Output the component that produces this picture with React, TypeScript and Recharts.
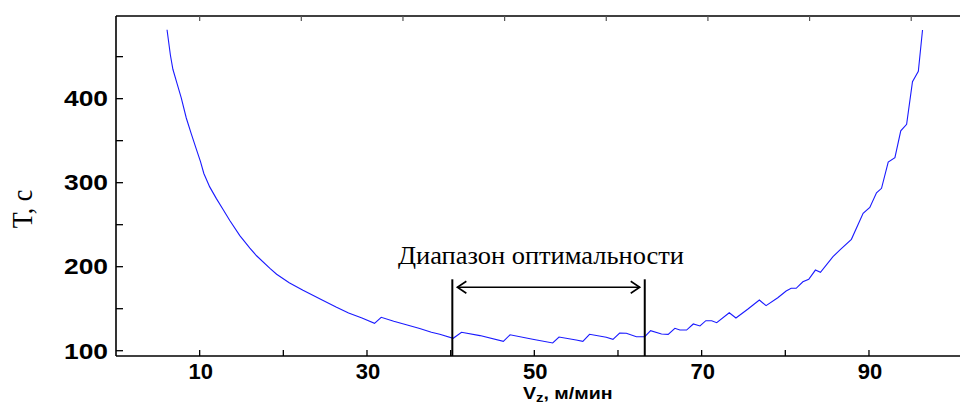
import React from 'react';
import { LineChart, Line, XAxis, YAxis, ReferenceLine, ReferenceDot } from 'recharts';

// Speed V_z (m/min)
const speeds: number[] = [
  6.1, 6.5, 6.8, 7.3, 7.8, 8.4, 9.0, 9.6, 10.1, 10.5, 11.2, 12.0, 12.8, 13.6, 14.8, 16.0, 16.8, 18.4, 19.2,
  20.7, 22.35, 24.7, 26.3, 27.8, 29.4, 30.9, 31.7, 33.2, 34.7, 36.3, 37.7, 38.7, 40.3, 41.3, 43.5, 46.3, 47.1,
  49.8, 52.2, 52.95, 55.0, 55.8, 56.6, 58.6, 59.4, 60.2, 61.0, 62.2, 63.2, 63.9, 65.2, 66.0, 66.8, 67.4, 68.2,
  69.0, 69.8, 70.5, 71.2, 71.8, 73.3, 74.1, 75.5, 76.9, 77.7, 79.1, 80.1, 80.7, 81.3, 82.1, 82.8, 83.6, 84.2,
  85.7, 86.6, 87.9, 89.3, 90.1, 90.9, 91.5, 92.3, 93.1, 93.8, 94.5, 95.2, 95.9, 96.4,
];
// Time T (s)
const times: number[] = [
  482, 452, 435, 418, 401, 377, 358, 340, 325, 311, 295, 281, 268, 255, 237, 222, 213, 198, 191,
  181, 172, 160, 152, 145, 139, 132.6, 139.8, 135, 130.8, 126.5, 122, 119.5, 114.8, 122, 118, 111.2, 119,
  113.6, 109.2, 116.3, 112.7, 111.2, 119.5, 116, 113.6, 121, 120.7, 116.7, 116.7, 123.8, 119.9, 119.5, 126.7, 124.6, 124.6,
  131.8, 129.4, 135.7, 135.7, 133.3, 145.2, 138.9, 149.3, 160.4, 153.6, 163.1, 171.1, 174.3, 174.3, 182.1, 185, 196, 193.3,
  212, 220.5, 232.6, 263.6, 270.5, 288, 293.3, 324.5, 329.8, 361.8, 369.5, 420.2, 432.5, 481.8,
];

const xTicks: number[] = [10, 20, 30, 40, 50, 60, 70, 80, 90];
const xTickLabels: number[] = [10, 30, 50, 70, 90];
const topTicks: number[] = [10, 22.15, 34.3, 46.45, 58.6, 70.75, 82.9, 95.05];
const yTicks: number[] = [100, 150, 200, 250, 300, 350, 400, 450];
const yTickLabels: number[] = [100, 200, 300, 400];

const xDomain: [number, number] = [0, 100.88];
const yDomain: [number, number] = [93.7, 498.4];

// Optimality range annotation
const rangeBounds: number[] = [40.2, 63.2];
const rangeTopT = 185;
const arrowEnds: number[] = [40.8, 62.6];
const arrowT = 175.5;
const rangeLabel = 'Диапазон оптимальности';
const rangeLabelAt = { v: 50.8, t: 202.9 };

const yTitle = 'T, c';
const xTitleMain = 'V';
const xTitleSub = 'z';
const xTitleRest = ', м/мин';

const data = speeds.map((v, i) => ({ v, t: times[i] }));

const SANS = '"Liberation Sans", Arial, sans-serif';
const SERIF = '"Liberation Serif", "Times New Roman", serif';

const YTick = (props: any) => {
  const { x, y, payload } = props;
  const labeled = yTickLabels.includes(payload.value);
  return (
    <g>
      <line x1={x} x2={x + 7} y1={y} y2={y} stroke="#000" strokeWidth={1.3} />
      {labeled && (
        <text
          x={0}
          y={0}
          transform={`translate(${x - 8},${y + 7.8}) scale(1.2,1)`}
          textAnchor="end"
          fontFamily={SANS}
          fontWeight="bold"
          fontSize={22}
          fill="#000"
        >
          {payload.value}
        </text>
      )}
    </g>
  );
};

const XTick = (props: any) => {
  const { x, y, payload } = props;
  const labeled = xTickLabels.includes(payload.value);
  return (
    <g>
      <line x1={x} x2={x} y1={y} y2={y - 6} stroke="#000" strokeWidth={1.3} />
      {labeled && (
        <text x={x + 1} y={y + 22.5} textAnchor="middle" fontFamily={SANS} fontWeight="bold" fontSize={22} fill="#000">
          {payload.value}
        </text>
      )}
    </g>
  );
};

const TopTick = (props: any) => {
  const { x, y } = props;
  return <line x1={x} x2={x} y1={y} y2={y + 5} stroke="#555" strokeWidth={1.2} />;
};

const YTitle = () => (
  <text
    x={0}
    y={0}
    transform="translate(31.7,209) rotate(-90) scale(1,1.15)"
    textAnchor="middle"
    fontFamily={SERIF}
    fontSize={26}
    fill="#000"
  >
    {yTitle}
  </text>
);

const XTitle = () => (
  <text
    x={0}
    y={0}
    transform="translate(523,398.8) scale(1.15,1)"
    textAnchor="start"
    fontFamily={SANS}
    fontWeight="bold"
    fontSize={17}
    fill="#000"
  >
    <tspan>{xTitleMain}</tspan>
    <tspan fontSize={13} dy={3}>{xTitleSub}</tspan>
    <tspan dy={-3}>{xTitleRest}</tspan>
  </text>
);

const ArrowShape = (props: any) => {
  const { x1, y1, x2, y2 } = props;
  const left = Math.min(x1, x2);
  const right = Math.max(x1, x2);
  const y = y1;
  return (
    <g>
      <line x1={left} y1={y} x2={right} y2={y2} stroke="#000" strokeWidth={1.6} />
      <polyline points={`${left + 9},${y - 6} ${left},${y} ${left + 9},${y + 6}`} fill="none" stroke="#000" strokeWidth={1.6} />
      <polyline points={`${right - 9},${y - 6} ${right},${y} ${right - 9},${y + 6}`} fill="none" stroke="#000" strokeWidth={1.6} />
    </g>
  );
};

const LabelShape = (props: any) => {
  const { cx, cy } = props;
  return (
    <text
      x={cx}
      y={cy}
      textAnchor="middle"
      fontFamily={SERIF}
      fontSize={25}
      fill="#000"
      textLength={286}
      lengthAdjust="spacingAndGlyphs"
    >
      {rangeLabel}
    </text>
  );
};

export default function App() {
  return (
    <div style={{ position: 'fixed', left: 0, top: 0, width: 960, height: 410, background: '#fff', overflow: 'hidden' }}>
      <LineChart width={960} height={410} data={data} margin={{ top: 0, right: 0, bottom: 0, left: 0 }}>
        <XAxis
          dataKey="v"
          type="number"
          domain={xDomain}
          allowDataOverflow
          ticks={xTicks}
          interval={0}
          height={54}
          tickSize={0}
          tickMargin={0}
          tick={<XTick />}
          tickLine={false}
          axisLine={{ stroke: '#000', strokeWidth: 1.6 }}
          label={<XTitle />}
        />
        <XAxis
          xAxisId="top"
          orientation="top"
          dataKey="v"
          type="number"
          domain={xDomain}
          allowDataOverflow
          ticks={topTicks}
          interval={0}
          height={16}
          tickSize={0}
          tickMargin={0}
          tick={<TopTick />}
          tickLine={false}
          axisLine={{ stroke: '#000', strokeWidth: 1.3 }}
        />
        <YAxis
          type="number"
          domain={yDomain}
          allowDataOverflow
          ticks={yTicks}
          interval={0}
          width={116}
          tickSize={0}
          tickMargin={0}
          tick={<YTick />}
          tickLine={false}
          axisLine={{ stroke: '#000', strokeWidth: 1.6 }}
          label={<YTitle />}
        />
        <Line
          type="linear"
          dataKey="t"
          stroke="#1a1aff"
          strokeWidth={1.1}
          dot={false}
          activeDot={false}
          isAnimationActive={false}
        />
        {rangeBounds.map((b) => (
          <ReferenceLine
            key={b}
            segment={[{ x: b, y: rangeTopT }, { x: b, y: yDomain[0] }]}
            stroke="#000"
            strokeWidth={2}
            ifOverflow="visible"
          />
        ))}
        <ReferenceLine
          segment={[{ x: arrowEnds[0], y: arrowT }, { x: arrowEnds[1], y: arrowT }]}
          stroke="#000"
          ifOverflow="visible"
          shape={<ArrowShape />}
        />
        <ReferenceDot x={rangeLabelAt.v} y={rangeLabelAt.t} r={0} ifOverflow="visible" shape={<LabelShape />} />
      </LineChart>
    </div>
  );
}
